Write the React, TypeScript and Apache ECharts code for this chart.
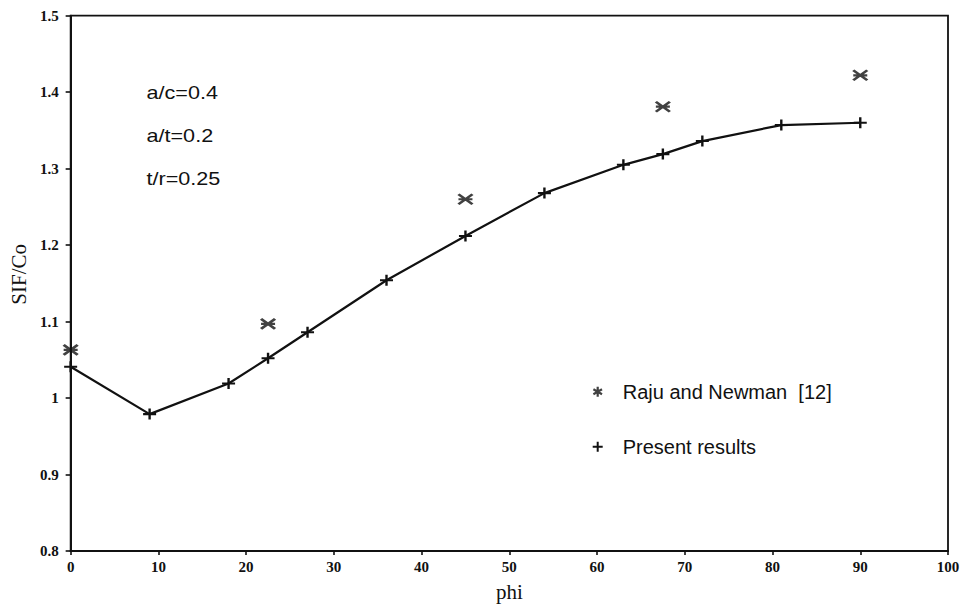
import React, { useEffect, useRef } from "react";
import * as echarts from "echarts";

// phi (degrees) and normalised SIF for each data set
const phiPresent = [0, 9, 18, 22.5, 27, 36, 45, 54, 63, 67.5, 72, 81, 90];
const sifPresent = [1.041, 0.979, 1.019, 1.052, 1.086, 1.154, 1.212, 1.268, 1.305, 1.319, 1.336, 1.357, 1.36];
const phiRaju = [0, 22.5, 45, 67.5, 90];
const sifRaju = [1.063, 1.097, 1.26, 1.381, 1.422];

const seriesNames = ["Raju and Newman  [12]", "Present results"];
const notes = ["a/c=0.4", "a/t=0.2", "t/r=0.25"];

const xMin = 0, xMax = 100, xStep = 10;
const yMin = 0.8, yMax = 1.5, yStep = 0.1;

const INK = "#111111";
const PLUS = "path://M5,0 L5,10 M0,5 L10,5";
const BOWTIE = "path://M0,0 L12,9 M12,0 L0,9 M0,4.5 L12,4.5";
const ASTER = "path://M5,0 L5,10 M0.7,2.5 L9.3,7.5 M9.3,2.5 L0.7,7.5";

export default function App() {
  const ref = useRef<HTMLDivElement>(null);
  useEffect(() => {
    if (!ref.current) return;
    const chart = echarts.init(ref.current, null, { renderer: "svg" });
    const serif = '"Liberation Serif", "Times New Roman", serif';
    const sans = '"Liberation Sans", Arial, sans-serif';
    chart.setOption({
      animation: false,
      backgroundColor: "#ffffff",
      grid: {
        left: 67.7,
        right: 21,
        top: 15.7,
        bottom: 52.7,
        show: true,
        borderColor: INK,
        borderWidth: 1.8,
        backgroundColor: "transparent",
      },
      xAxis: {
        type: "value",
        min: xMin,
        max: xMax,
        interval: xStep,
        name: "phi",
        nameLocation: "middle",
        nameGap: 30,
        nameTextStyle: { fontFamily: serif, fontSize: 21, color: INK },
        axisLine: { show: true, lineStyle: { color: INK, width: 2 } },
        axisTick: { show: true, inside: false, length: 4, lineStyle: { color: INK, width: 1.6 } },
        axisLabel: { margin: 8, fontFamily: serif, fontWeight: "bold", fontSize: 15, color: INK },
        splitLine: { show: false },
      },
      yAxis: {
        type: "value",
        min: yMin,
        max: yMax,
        interval: yStep,
        name: "SIF/Co",
        nameLocation: "middle",
        nameRotate: 90,
        nameGap: 40,
        nameTextStyle: { fontFamily: serif, fontSize: 21, color: INK, padding: [0, 0, 0, 18] },
        axisLine: { show: true, lineStyle: { color: INK, width: 2 } },
        axisTick: { show: true, inside: false, length: 5, lineStyle: { color: INK, width: 1.6 } },
        axisLabel: { margin: 12, fontFamily: serif, fontWeight: "bold", fontSize: 15, color: INK },
        splitLine: { show: false },
      },
      legend: {
        orient: "vertical",
        left: 586.7,
        top: 375.7,
        itemGap: 33,
        itemWidth: 10,
        itemHeight: 10,
        textStyle: { fontFamily: sans, fontSize: 20, color: INK, lineHeight: 22, padding: [0, 0, 0, 15] },
        data: [
          { name: seriesNames[0], icon: ASTER, itemStyle: { color: "transparent", borderColor: INK, borderWidth: 2.2 } },
          { name: seriesNames[1], icon: PLUS, itemStyle: { color: "transparent", borderColor: INK, borderWidth: 2 } },
        ],
      },
      graphic: notes.map((t, i) => ({
        type: "text",
        x: 146.5,
        y: 92.3 + i * 43,
        scaleX: 1.2,
        style: {
          text: t,
          fill: INK,
          fontFamily: sans,
          fontSize: 18,
          verticalAlign: "middle",
          align: "left",
        },
      })),
      series: [
        {
          name: seriesNames[0],
          type: "scatter",
          data: phiRaju.map((p, i) => [p, sifRaju[i]]),
          symbol: BOWTIE,
          symbolSize: [14, 10],
          itemStyle: { color: "transparent", borderColor: INK, borderWidth: 2.6 },
          z: 3,
        },
        {
          name: seriesNames[1],
          type: "line",
          data: phiPresent.map((p, i) => [p, sifPresent[i]]),
          symbol: PLUS,
          symbolSize: [13, 11],
          showSymbol: true,
          lineStyle: { color: INK, width: 2.2 },
          itemStyle: { color: "transparent", borderColor: INK, borderWidth: 2.2 },
          z: 2,
        },
      ],
    });
    return () => chart.dispose();
  }, []);
  return (
    <div
      ref={ref}
      style={{ position: "absolute", left: 0, top: 0, width: 969, height: 607, background: "#fff" }}
    />
  );
}
